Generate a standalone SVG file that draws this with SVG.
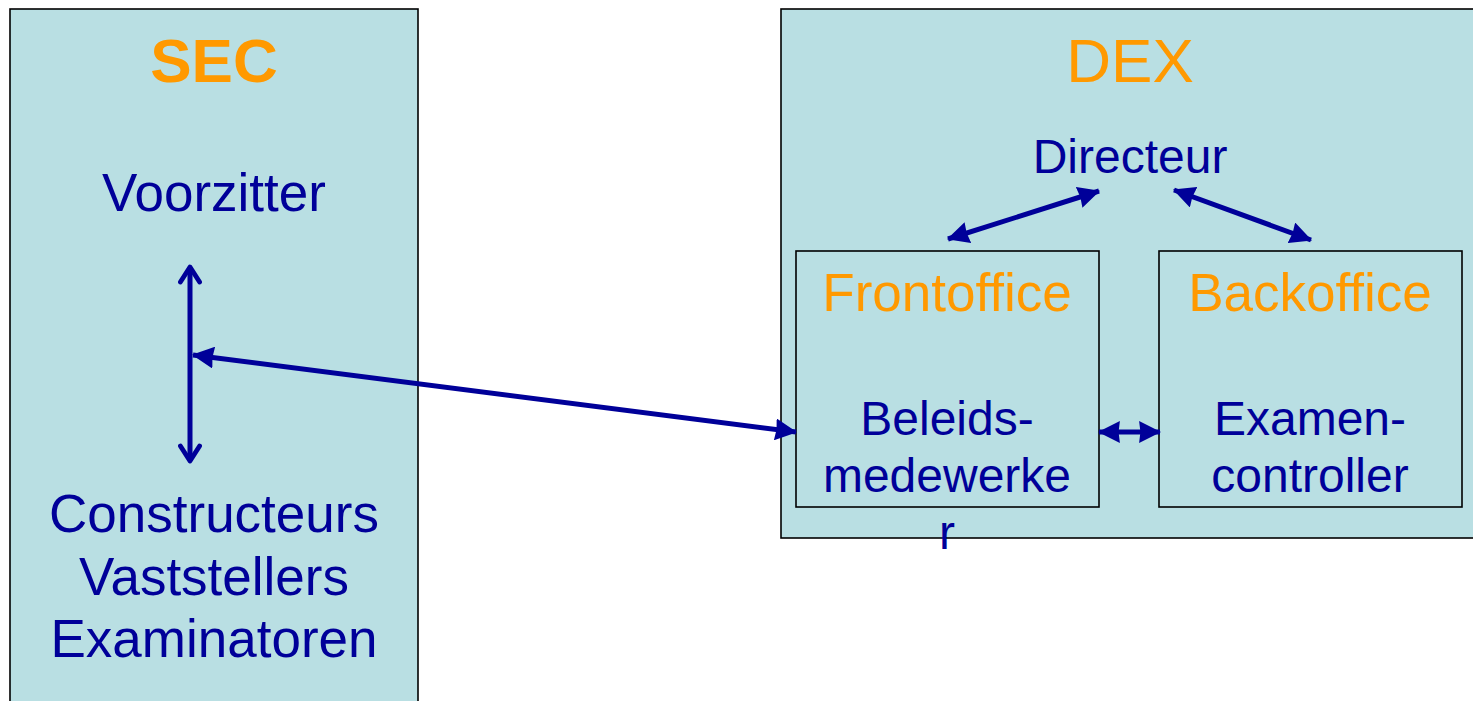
<svg xmlns="http://www.w3.org/2000/svg" width="1473" height="701" viewBox="0 0 1473 701">
<style>
.box{fill:#B9DFE3;stroke:#000;stroke-width:1.6}
.t{font-family:"Liberation Sans",Arial,sans-serif;text-anchor:middle;fill:#000099}
.o{fill:#FF9900}
.ln{stroke:#000099;stroke-width:5;fill:none}
</style>
<defs>
<marker id="ah" viewBox="0 0 10 10" refX="9.5" refY="5" markerWidth="22" markerHeight="22" markerUnits="userSpaceOnUse" orient="auto-start-reverse">
<path d="M0,0 L10,5 L0,10 L0.6,5 z" fill="#000099"/>
</marker>
<marker id="oa" viewBox="0 0 12 12" refX="10.5" refY="6" markerWidth="24" markerHeight="24" markerUnits="userSpaceOnUse" orient="auto-start-reverse">
<path d="M3,1.2 L10.5,6 L3,10.8" fill="none" stroke="#000099" stroke-width="2.4" stroke-linecap="round" stroke-linejoin="round"/>
</marker>
</defs>
<rect width="1473" height="701" fill="#fff"/>
<g id="sec">
<rect class="box" x="10" y="9" width="408" height="700"/>
<text class="t o" x="214" y="82" font-size="62" font-weight="bold">SEC</text>
<text class="t" x="214" y="211" font-size="53">Voorzitter</text>
<text class="t" x="214" y="532" font-size="53">Constructeurs</text>
<text class="t" x="214" y="595" font-size="53">Vaststellers</text>
<text class="t" x="214" y="657" font-size="53">Examinatoren</text>
</g>
<g id="dex">
<rect class="box" x="781" y="9" width="700" height="529"/>
<text class="t o" x="1130" y="82" font-size="62">DEX</text>
<text class="t" x="1130" y="173" font-size="48">Directeur</text>
</g>
<g id="frontoffice">
<rect class="box" x="796" y="251" width="303" height="256"/>
<text class="t o" x="947" y="311" font-size="53">Frontoffice</text>
<text class="t" x="947" y="435" font-size="48">Beleids-</text>
<text class="t" x="947" y="492" font-size="48">medewerke</text>
<text class="t" x="947" y="549" font-size="48">r</text>
</g>
<g id="backoffice">
<rect class="box" x="1159" y="251" width="303" height="256"/>
<text class="t o" x="1310" y="311" font-size="53">Backoffice</text>
<text class="t" x="1310" y="435" font-size="48">Examen-</text>
<text class="t" x="1310" y="492" font-size="48">controller</text>
</g>
<g id="connectors">
<line class="ln" x1="190" y1="267" x2="190" y2="461" marker-start="url(#oa)" marker-end="url(#oa)"/>
<line class="ln" x1="193" y1="355" x2="796" y2="432" marker-start="url(#ah)" marker-end="url(#ah)"/>
<line class="ln" x1="948" y1="239" x2="1099" y2="191" marker-start="url(#ah)" marker-end="url(#ah)"/>
<line class="ln" x1="1174" y1="190" x2="1311" y2="240" marker-start="url(#ah)" marker-end="url(#ah)"/>
<line class="ln" x1="1099" y1="432" x2="1160" y2="432" marker-start="url(#ah)" marker-end="url(#ah)"/>
</g>
</svg>
